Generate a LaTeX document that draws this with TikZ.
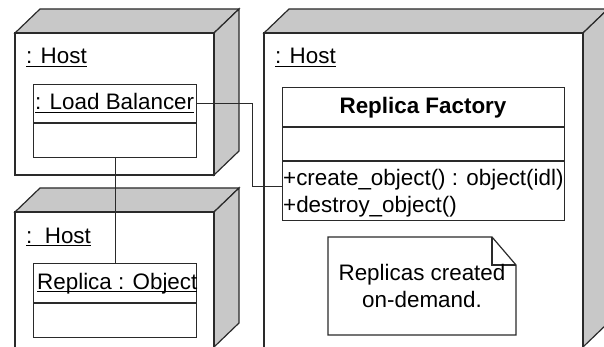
\documentclass[tikz,border=0pt]{standalone}
\usepackage{fontspec}
\setmainfont{Liberation Sans}
\usetikzlibrary{calc}

% underlined label with a rule at a fixed depth below the baseline
\newcommand\ulu[1]{\setbox0\hbox{#1}\rlap{\rule[-2.6pt]{\wd0}{1pt}}\box0}

\definecolor{edge}{HTML}{2A2A2A}
\definecolor{slab}{HTML}{C8C8C8}

\tikzset{
  outline/.style={draw=edge, line width=1.2pt, line join=miter},
  shade3d/.style={outline, fill=slab},
  face/.style={outline, fill=white},
  lbl/.style={anchor=base west, inner sep=0pt, font=\fontsize{22.4}{26}\selectfont},
  clsbox/.style={outline, fill=white, anchor=north west, inner sep=0pt},
  wire/.style={draw=edge, line width=0.9pt},
}

\begin{document}
\begin{tikzpicture}[x=1pt,y=-1pt]
\useasboundingbox (0,0) rectangle (604,347);
\clip (0,0) rectangle (604,347);

% ---- node boxes (front face, top slab, side slab) ----
% upper left host
\draw[shade3d] (15,33) -- (40,9) -- (239,9) -- (214,33) -- cycle;
\draw[shade3d] (214,33) -- (239,9) -- (239,151) -- (214,175) -- cycle;
\draw[face] (15,33) rectangle (214,175);

% lower left host
\draw[shade3d] (15,212) -- (40,188) -- (239,188) -- (214,212) -- cycle;
\draw[shade3d] (214,212) -- (239,188) -- (239,323) -- (214,347) -- cycle;
\draw[face] (15,360) -- (15,212) -- (214,212) -- (214,360);

% right host
\draw[shade3d] (264,33) -- (289,9) -- (608,9) -- (583,33) -- cycle;
\draw[shade3d] (583,33) -- (608,9) -- (608,323) -- (583,347) -- cycle;
\draw[face] (264,360) -- (264,33) -- (583,33) -- (583,360);

% host labels
\node[lbl] (h1) at (26,64) {\ulu{: Host}};
\node[lbl] (h2) at (26,243) {\ulu{:\ \ Host}};
\node[lbl] (h3) at (275,64) {\ulu{: Host}};

% ---- : Load Balancer ----
\node[clsbox, minimum width=163pt, minimum height=73pt] (lb) at (33,84) {};
\draw[outline] (33,123) -- (196,123);
\node[lbl] (lbname) at (35,110) {\ulu{: Load Balancer}};

% ---- Replica : Object ----
\node[clsbox, minimum width=163pt, minimum height=74pt] (ro) at (33,263) {};
\draw[outline] (33,303) -- (196,303);
\node[lbl] (roname) at (37,289) {\ulu{Replica : Object}};

% ---- Replica Factory ----
\node[clsbox, minimum width=282pt, minimum height=133pt] (rf) at (282,87) {};
\draw[outline] (282,127) -- (564,127);
\draw[outline] (282,161) -- (564,161);
\node[lbl, anchor=base, font=\fontsize{22.4}{26}\selectfont\bfseries] (rfname) at (423,114) {Replica Factory};
\node[lbl] (op1) at (283,186) {+create\_object() : object(idl)};
\node[lbl] (op2) at (283,212) {+destroy\_object()};

% ---- note ----
\draw[outline, fill=white] (328,237) -- (492,237) -- (516,265) -- (516,335) -- (328,335) -- cycle;
\draw[outline] (492,237) -- (492,265) -- (516,265);
\node[lbl, anchor=base] (n1) at (422,280) {Replicas created};
\node[lbl, anchor=base] (n2) at (422,307) {on-demand.};

% ---- links ----
\coordinate (lbport) at (196,103);
\coordinate (rfport) at (282,186);
\draw[wire] (lbport) -- (252,103) |- (rfport);
\draw[wire] (lb.south -| 115,0) -- (ro.north -| 115,0);

\end{tikzpicture}
\end{document}
